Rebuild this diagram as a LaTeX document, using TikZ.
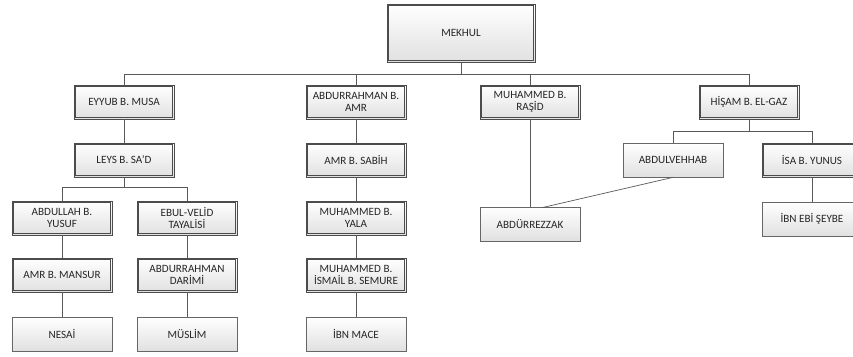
\documentclass[tikz,border=0pt]{standalone}
\usepackage{fontspec}
\setmainfont{Carlito}
\usetikzlibrary{calc, shadows}

\tikzset{
    kisi/.style={rectangle, draw=black!60, line width=0.6pt,
        top color=white, bottom color=black!12,
        drop shadow={opacity=0.18, shadow xshift=1pt, shadow yshift=-1pt},
        minimum width=3cm, minimum height=1.02cm, inner sep=1pt,
        align=center, text=black!85, font=\fontsize{9.5}{10.8}\selectfont},
    cift/.style={kisi, draw=black!70, line width=0.7pt},
    icerik/.style={draw=black!70, line width=0.6pt},
    bag/.style={draw=black!65, line width=0.6pt}
}

\begin{document}
\begin{tikzpicture}[x=0.03cm, y=-0.03cm]
    \useasboundingbox (0,0) rectangle (853,356);
    \clip (0,0) rectangle (853,356);

    \node[cift, minimum width=4.44cm, minimum height=1.74cm] (mekhul) at (461,33) {MEKHUL};

    \node[cift] (eyyub)  at (124,102) {EYYUB B. MUSA};
    \node[cift] (abdb)   at (356,102) {ABDURRAHMAN B.\\AMR};
    \node[cift] (rasid)  at (530,102) {MUHAMMED B.\\RAŞİD};
    \node[cift] (hisam)  at (749,102) {HİŞAM B. EL-GAZ};

    \node[cift] (leys)   at (124,160) {LEYS B. SA’D};
    \node[cift] (sabih)  at (356,160) {AMR B. SABİH};
    \node[kisi] (vehhab) at (673,160) {ABDULVEHHAB};
    \node[cift] (isa)    at (812,160) {İSA B. YUNUS};

    \node[cift] (abdullah) at (62,218)  {ABDULLAH B.\\YUSUF};
    \node[cift] (ebul)     at (187,218) {EBUL-VELİD\\TAYALİSİ};
    \node[cift] (yala)     at (356,218) {MUHAMMED B.\\YALA};
    \node[kisi] (rezzak)   at (530,224) {ABDÜRREZZAK};
    \node[kisi] (ibnebi)   at (812,219) {İBN EBİ ŞEYBE};

    \node[cift] (mansur) at (62,275)  {AMR B. MANSUR};
    \node[cift] (darimi) at (187,275) {ABDURRAHMAN\\DARİMİ};
    \node[cift] (semure) at (356,275) {MUHAMMED B.\\İSMAİL B. SEMURE};

    \node[kisi] (nesai)  at (62,334)  {NESAİ};
    \node[kisi] (muslim) at (187,334) {MÜSLİM};
    \node[kisi] (mace)   at (356,334) {İBN MACE};

    % ic cerceveler
    \foreach \n in {mekhul, eyyub, abdb, rasid, hisam, leys, sabih, isa,
                    abdullah, ebul, yala, mansur, darimi, semure}
    {
        \draw[icerik] ($(\n.north west)+(1.8pt,-1.8pt)$) rectangle ($(\n.south east)+(-1.8pt,1.8pt)$);
    }

    % baglar
    \coordinate (ust)  at (0,74);
    \coordinate (leyh) at (0,187);
    \coordinate (hish) at (0,131);

    \draw[bag] (mekhul.south) -- (mekhul.south |- ust);
    \draw[bag] (eyyub.north) -- (eyyub.north |- ust) -- (hisam.north |- ust) -- (hisam.north);
    \draw[bag] (abdb.north) -- (abdb.north |- ust);
    \draw[bag] (rasid.north) -- (rasid.north |- ust);

    \draw[bag] (leys.south) -- (leys.south |- leyh);
    \draw[bag] (abdullah.north) -- (abdullah.north |- leyh) -- (ebul.north |- leyh) -- (ebul.north);

    \draw[bag] (hisam.south) -- (hisam.south |- hish);
    \draw[bag] (vehhab.north) -- (vehhab.north |- hish) -- (isa.north |- hish) -- (isa.north);

    \foreach \a/\b in {eyyub/leys, abdullah/mansur, mansur/nesai, ebul/darimi,
                       darimi/muslim, abdb/sabih, sabih/yala, yala/semure,
                       semure/mace, rasid/rezzak, isa/ibnebi}
    {
        \draw[bag] (\a) -- (\b);
    }
    \draw[bag] (vehhab.south) -- ($(rezzak.north)+(12,1)$);
\end{tikzpicture}
\end{document}
